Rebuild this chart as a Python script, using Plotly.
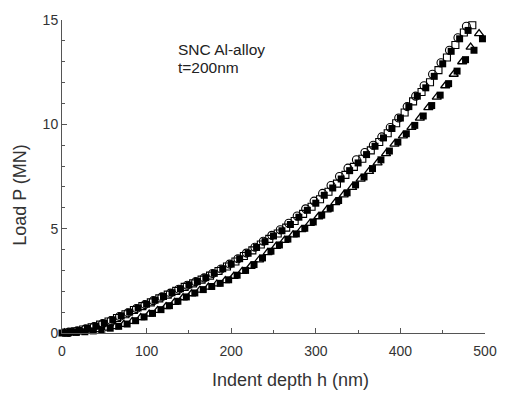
import plotly.graph_objects as go

# Upper band series
depth_fsq = [0,10,20,30,40,50,60,70,80,90,100,110,120,130,140,150,160,170,180,190,200,210,220,230,240,250,260,270,280,290,300,310,320,330,340,350,360,370,380,390,400,410,420,430,440,450,460,470,480]
load_fsq = [0,0.05,0.12,0.22,0.33,0.47,0.63,0.82,1.0,1.2,1.38,1.57,1.75,1.93,2.12,2.3,2.47,2.65,2.86,3.08,3.3,3.56,3.82,4.1,4.38,4.65,4.9,5.2,5.55,5.88,6.22,6.6,6.95,7.38,7.78,8.15,8.55,8.95,9.35,9.8,10.3,10.85,11.35,11.75,12.3,12.9,13.5,14.1,14.5]

depth_osq = [5,15,25,35,45,55,65,75,85,95,105,115,125,135,145,155,165,175,185,195,205,215,225,235,245,255,265,275,285,295,305,315,325,335,345,355,365,375,385,395,405,415,425,435,445,455,465,475,485]
load_osq = [0.02,0.08,0.17,0.27,0.4,0.55,0.72,0.9,1.1,1.29,1.47,1.66,1.84,2.02,2.21,2.38,2.56,2.75,2.97,3.19,3.43,3.69,3.96,4.24,4.51,4.77,5.05,5.37,5.71,6.05,6.41,6.77,7.16,7.58,7.96,8.35,8.75,9.15,9.57,10.05,10.57,11.1,11.55,12.02,12.6,13.2,13.8,14.4,14.75]

depth_ocir = [8,18,28,38,48,58,68,78,88,98,108,118,128,138,148,158,168,178,188,198,208,218,228,238,248,258,268,278,288,298,308,318,328,338,348,358,368,378,388,398,408,418,428,438,448,458,468,478]
load_ocir = [0.04,0.1,0.2,0.31,0.45,0.6,0.79,0.97,1.17,1.36,1.55,1.73,1.91,2.1,2.29,2.46,2.64,2.85,3.07,3.3,3.56,3.83,4.11,4.4,4.68,4.95,5.26,5.61,5.95,6.32,6.69,7.07,7.5,7.9,8.3,8.65,9.0,9.4,9.85,10.3,10.85,11.35,11.85,12.4,12.95,13.55,14.15,14.7]

# Lower band series
depth_otri = [3,13,23,33,43,53,63,73,83,93,103,113,123,133,143,153,163,173,183,193,203,213,223,233,243,253,263,273,283,293,303,313,323,333,343,353,363,373,383,393,403,413,423,433,443,453,463,473,483,493]
load_otri = [0.01,0.03,0.06,0.1,0.16,0.23,0.31,0.41,0.56,0.74,0.91,1.08,1.27,1.47,1.69,1.88,2.05,2.2,2.35,2.51,2.72,2.95,3.2,3.5,3.85,4.15,4.44,4.7,4.95,5.25,5.57,5.9,6.25,6.62,6.98,7.37,7.75,8.15,8.6,9.05,9.45,9.85,10.3,10.8,11.3,11.85,12.4,13.0,13.7,14.35]

depth_fsq2 = [7,17,27,37,47,57,67,77,87,97,107,117,127,137,147,157,167,177,187,197,207,217,227,237,247,257,267,277,287,297,307,317,327,337,347,357,367,377,387,397,407,417,427,437,447,457,467,477,487,497]
load_fsq2 = [0.0,0.03,0.06,0.1,0.16,0.23,0.32,0.43,0.59,0.77,0.94,1.12,1.31,1.52,1.73,1.92,2.08,2.23,2.38,2.55,2.77,3.0,3.28,3.6,3.92,4.22,4.5,4.75,5.02,5.32,5.65,5.98,6.35,6.72,7.1,7.48,7.88,8.3,8.72,9.15,9.55,9.95,10.4,10.9,11.4,11.95,12.55,13.1,13.55,14.1]

x_ticks = [0, 100, 200, 300, 400, 500]
y_ticks = [0, 5, 10, 15]

W, H = 509, 394
ML, MR, MT, MB = 62, 13, 16, 61
PW, PH = W - ML - MR, H - MT - MB

fig = go.Figure()

def add(x, y, symbol, size, lw):
    fig.add_trace(go.Scatter(
        x=x, y=y, mode="markers", cliponaxis=False, showlegend=False,
        marker=dict(symbol=symbol, size=size, color="black",
                    line=dict(color="black", width=lw))))

add(depth_otri, load_otri, "triangle-up-open", 8, 1.3)
add(depth_fsq2, load_fsq2, "square", 7, 0)
add(depth_ocir, load_ocir, "circle-open", 8, 1.1)
add(depth_osq, load_osq, "square-open", 7, 1.1)
add(depth_fsq, load_fsq, "square", 7, 0)

FONT = "Liberation Sans, Arial, sans-serif"
axis_common = dict(showgrid=False, zeroline=False, showline=True, linecolor="#555",
                   linewidth=1, ticks="inside", ticklen=5, tickcolor="#555",
                   tickfont=dict(family=FONT, size=14, color="#333"),
                   mirror=False)

def px_ann(text, px, py, size, xanchor="center", angle=None, color="#333"):
    d = dict(text=text, showarrow=False, xref="paper", yref="paper",
             x=(px - ML) / PW, y=(H - MB - py) / PH,
             xanchor=xanchor, yanchor="middle",
             font=dict(family=FONT, size=size, color=color))
    if angle is not None:
        d["textangle"] = angle
    return d

fig.update_layout(
    width=W, height=H,
    margin=dict(l=ML, r=MR, t=MT, b=MB),
    paper_bgcolor="white", plot_bgcolor="white",
    xaxis=dict(range=[0, 500], tickvals=x_ticks, ticklabelstandoff=5,
               minor=dict(dtick=50, ticks="inside", ticklen=3, tickcolor="#555"),
               **axis_common),
    yaxis=dict(range=[0, 15], tickvals=y_ticks,
               minor=dict(dtick=1, ticks="inside", ticklen=3, tickcolor="#555"),
               **axis_common),
    annotations=[
        px_ann("SNC Al-alloy", 179, 46, 15.5, xanchor="left", color="#222"),
        px_ann("t=200nm", 179, 64, 15.5, xanchor="left", color="#222"),
        px_ann("Indent depth h (nm)", 296, 381, 18),
        px_ann("Load P (MN)", 19, 193, 18, angle=-90),
    ],
)

fig.write_html("out.html", config={"displayModeBar": False},
               post_script="document.body.style.margin='0';document.body.style.overflow='hidden';")
